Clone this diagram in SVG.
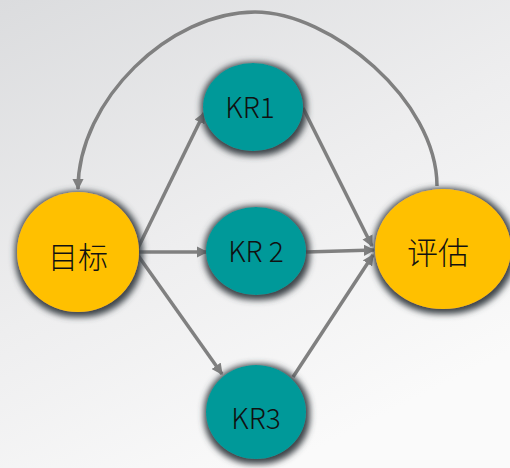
<svg xmlns="http://www.w3.org/2000/svg" width="510" height="468" viewBox="0 0 510 468">
<defs>
<linearGradient id="bg" x1="0" y1="0" x2="0.55" y2="1">
<stop offset="0" stop-color="#dbdcde"/>
<stop offset="0.55" stop-color="#eeeeef"/>
<stop offset="1" stop-color="#fafafa"/>
</linearGradient>
<filter id="glow" x="-30%" y="-30%" width="160%" height="160%">
<feMorphology in="SourceAlpha" operator="dilate" radius="2.5"/>
<feGaussianBlur stdDeviation="3.2"/>
<feOffset dx="1" dy="2" result="b"/>
<feFlood flood-color="#3c4348" flood-opacity="1"/>
<feComposite in2="b" operator="in"/>
<feMerge><feMergeNode/><feMergeNode in="SourceGraphic"/></feMerge>
</filter>
<marker id="ah" viewBox="0 0 10 10" refX="9" refY="5" markerWidth="3.2" markerHeight="3.2" markerUnits="strokeWidth" orient="auto">
<path d="M0,0 L10,5 L0,10 Z" fill="#808080"/>
</marker>
<style>
.kr{fill:#009999;filter:url(#glow)}
.ob{fill:#ffc000;filter:url(#glow)}
.c{fill:none;stroke:#808080;stroke-width:3.5;marker-end:url(#ah)}
.arc{fill:none;stroke:#808080;stroke-width:3.5;marker-end:url(#ah)}
.t{font-family:"Noto Sans CJK SC","Noto Sans",sans-serif;fill:#111;text-anchor:middle;font-weight:300}
</style>
</defs>
<rect width="510" height="468" fill="url(#bg)"/>
<g id="connectors">
<path class="arc" d="M437,186 C437,100 330,12 255,12 C170,12 78,100 78,189"/>
<line class="c" x1="137" y1="250" x2="204" y2="113"/>
<line class="c" x1="137" y1="252" x2="207" y2="252"/>
<line class="c" x1="137" y1="254" x2="222" y2="374"/>
<line class="c" x1="303" y1="108" x2="372" y2="246"/>
<line class="c" x1="306" y1="252" x2="374" y2="250"/>
<line class="c" x1="293" y1="377" x2="373" y2="255"/>
</g>
<g id="goal">
<ellipse class="ob" cx="78" cy="252" rx="61" ry="60"/>
<text class="t" x="78" y="268" font-size="30">目标</text>
</g>
<g id="kr1">
<ellipse class="kr" cx="253" cy="107" rx="50" ry="44"/>
<text class="t" x="250" y="118" font-size="28">KR1</text>
</g>
<g id="kr2">
<ellipse class="kr" cx="256" cy="251" rx="50" ry="44"/>
<text class="t" x="256" y="262" font-size="28">KR 2</text>
</g>
<g id="kr3">
<ellipse class="kr" cx="256" cy="412" rx="50" ry="47"/>
<text class="t" x="256" y="429" font-size="28">KR3</text>
</g>
<g id="eval">
<ellipse class="ob" cx="443" cy="249" rx="68" ry="60"/>
<text class="t" x="438" y="264" font-size="31">评估</text>
</g>
</svg>
